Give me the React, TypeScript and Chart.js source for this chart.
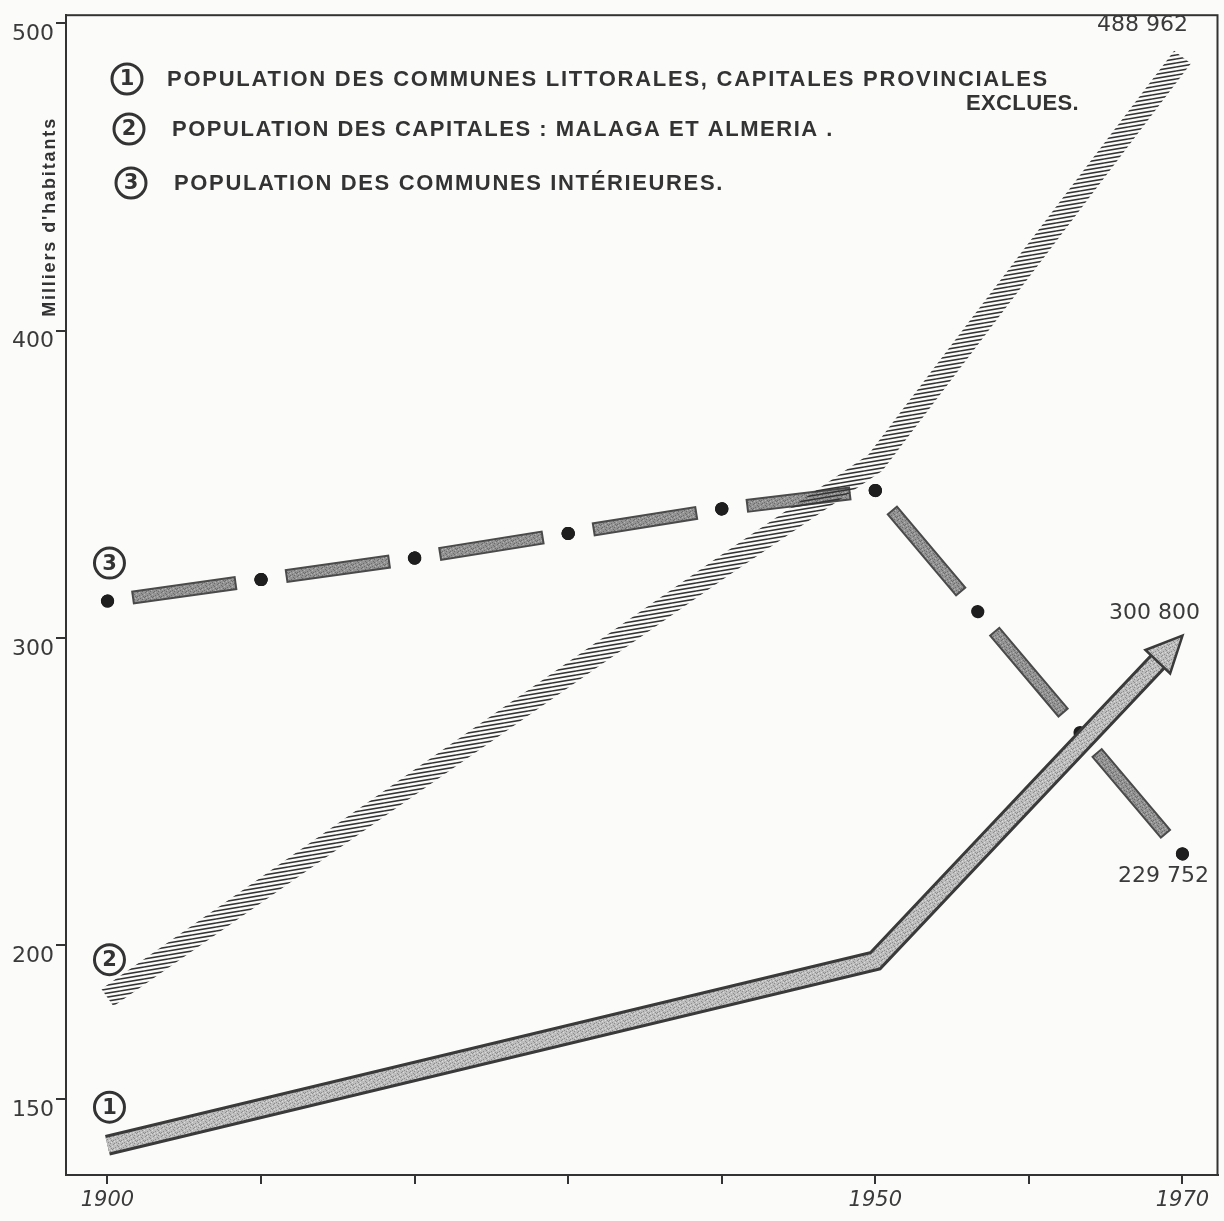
import React, { useEffect, useRef } from "react";
import { Chart, registerables } from "chart.js";

Chart.register(...registerables);

// ---------- data ----------
const yearsLittoral = [1900, 1950, 1970];
const popLittoral = [135, 195, 300.8];
const yearsCapitales = [1900, 1910, 1920, 1930, 1940, 1950, 1970];
const popCapitales = [183, 218, 253, 288, 323, 357, 488.962];
const yearsInterieur = [1900, 1910, 1920, 1930, 1940, 1950, 1970];
const popInterieur = [312, 319, 326, 334, 342, 348, 229.752];
const xTickYears = [1900, 1910, 1920, 1930, 1940, 1950, 1960, 1970];
const xLabelYears = [1900, 1950, 1970];
const yTickValues = [150, 200, 300, 400, 500];
const seriesNumbers = ["1", "2", "3"];
const legendLines = [
  "POPULATION DES COMMUNES LITTORALES, CAPITALES PROVINCIALES",
  "POPULATION DES CAPITALES : MALAGA ET ALMERIA .",
  "POPULATION DES COMMUNES INTÉRIEURES.",
];
const legendExtra = "EXCLUES.";
const yAxisTitle = "Milliers d'habitants";

// ---------- helpers ----------
const pts = (xs: number[], ys: number[]) => xs.map((x, i) => ({ x, y: ys[i] }));
const fmtThousands = (v: number) =>
  String(Math.round(v * 1000)).replace(/\B(?=(\d{3})+(?!\d))/g, " ");

const INK = "#333333";
const DASH_STEP = 155;
const segPeriod = (c: any) => {
  const len = Math.hypot(c.p1.x - c.p0.x, c.p1.y - c.p0.y);
  const n = Math.max(1, Math.round(len / DASH_STEP));
  return len / n;
};
const dashFor = (shrink: number) => (c: any) => {
  const p = segPeriod(c);
  const d = p * 0.68 - shrink;
  return [d, p - d];
};
const dashOffFor = (shrink: number) => (c: any) => {
  const p = segPeriod(c);
  const d = p * 0.68 - shrink;
  return d + (p - d) / 2;
};

function makeStipple(base: string, dark: string, light: string) {
  const c = document.createElement("canvas");
  c.width = 8;
  c.height = 8;
  const g = c.getContext("2d")!;
  g.fillStyle = base;
  g.fillRect(0, 0, 8, 8);
  g.fillStyle = dark;
  [[1, 0], [5, 1], [6, 2], [3, 3], [7, 4], [0, 5], [4, 6], [2, 7], [6, 7], [1, 4]].forEach(([x, y]) =>
    g.fillRect(x, y, 1, 1)
  );
  g.fillStyle = light;
  [[3, 0], [0, 2], [5, 4], [2, 5], [7, 6]].forEach(([x, y]) => g.fillRect(x, y, 1, 1));
  return g.createPattern(c, "repeat")!;
}

function makeHatch() {
  const c = document.createElement("canvas");
  c.width = 24;
  c.height = 4;
  const g = c.getContext("2d")!;
  g.strokeStyle = "#333333";
  g.lineWidth = 1.6;
  for (const off of [-4, 0, 4]) {
    g.beginPath();
    g.moveTo(0, 3 + off);
    g.lineTo(24, -1 + off);
    g.stroke();
  }
  return g.createPattern(c, "repeat")!;
}

function fitText(ctx: CanvasRenderingContext2D, text: string, x: number, y: number, width: number, font: string) {
  ctx.font = font;
  (ctx as any).letterSpacing = "0px";
  const w = ctx.measureText(text).width;
  const n = Array.from(text).length;
  const ls = n > 1 ? (width - w) / n : 0;
  (ctx as any).letterSpacing = ls + "px";
  ctx.fillText(text, x, y);
  (ctx as any).letterSpacing = "0px";
}

function circled(ctx: CanvasRenderingContext2D, cx: number, cy: number, digit: string) {
  ctx.beginPath();
  ctx.arc(cx, cy, 15, 0, Math.PI * 2);
  ctx.lineWidth = 3;
  ctx.strokeStyle = INK;
  ctx.stroke();
  ctx.font = 'bold 21px "DejaVu Sans"';
  ctx.textAlign = "center";
  ctx.textBaseline = "middle";
  ctx.fillStyle = INK;
  ctx.fillText(digit, cx, cy + 1);
}

const ARROW_LEN = 36;
const ARROW_HALF = 17;
function arrowGeom(chart: any) {
  const n = yearsLittoral.length;
  const xs = chart.scales.x;
  const ys = chart.scales.y;
  const tx = xs.getPixelForValue(yearsLittoral[n - 1]);
  const ty = ys.getPixelForValue(popLittoral[n - 1]);
  const px = xs.getPixelForValue(yearsLittoral[n - 2]);
  const py = ys.getPixelForValue(popLittoral[n - 2]);
  const L = Math.hypot(tx - px, ty - py);
  const ux = (tx - px) / L;
  const uy = (ty - py) / L;
  return { tx, ty, ux, uy, bx: tx - ux * ARROW_LEN, by: ty - uy * ARROW_LEN, nx: -uy, ny: ux };
}

export default function App() {
  const ref = useRef<HTMLCanvasElement | null>(null);

  useEffect(() => {
    const canvas = ref.current!;
    const stippleLight = makeStipple("#bdbdbd", "#8d8d8d", "#dcdcdc");
    const stippleDark = makeStipple("#939393", "#6c6c6c", "#b4b4b4");
    const hatch = makeHatch();

    const decor = {
      id: "decor",
      beforeDraw(chart: any) {
        const { ctx, width, height } = chart;
        ctx.save();
        ctx.fillStyle = "#fbfbfa";
        ctx.fillRect(0, 0, width, height);
        ctx.restore();
      },
      beforeDatasetsDraw(chart: any) {
        const { ctx, chartArea: a } = chart;
        ctx.save();
        ctx.strokeStyle = INK;
        ctx.lineWidth = 2;
        ctx.strokeRect(a.left, a.top, a.right - a.left, a.bottom - a.top);
        ctx.restore();
      },
      beforeDatasetDraw(chart: any, args: any) {
        const lbl = chart.data.datasets[args.index].label as string;
        if (!lbl.startsWith("s1")) return;
        const g = arrowGeom(chart);
        const ctx = chart.ctx;
        ctx.save();
        const big = 5000;
        ctx.beginPath();
        ctx.moveTo(g.bx + g.nx * big, g.by + g.ny * big);
        ctx.lineTo(g.bx - g.nx * big, g.by - g.ny * big);
        ctx.lineTo(g.bx - g.nx * big - g.ux * big, g.by - g.ny * big - g.uy * big);
        ctx.lineTo(g.bx + g.nx * big - g.ux * big, g.by + g.ny * big - g.uy * big);
        ctx.closePath();
        ctx.clip();
      },
      afterDatasetDraw(chart: any, args: any) {
        const lbl = chart.data.datasets[args.index].label as string;
        if (!lbl.startsWith("s1")) return;
        chart.ctx.restore();
      },
      afterDatasetsDraw(chart: any) {
        const g = arrowGeom(chart);
        const ctx = chart.ctx;
        ctx.save();
        ctx.beginPath();
        ctx.moveTo(g.tx, g.ty);
        ctx.lineTo(g.bx + g.nx * ARROW_HALF, g.by + g.ny * ARROW_HALF);
        ctx.lineTo(g.bx - g.nx * ARROW_HALF, g.by - g.ny * ARROW_HALF);
        ctx.closePath();
        ctx.fillStyle = stippleLight;
        ctx.fill();
        ctx.lineWidth = 2.5;
        ctx.lineJoin = "miter";
        ctx.strokeStyle = "#3a3a3a";
        ctx.stroke();
        ctx.restore();
      },
      afterDraw(chart: any) {
        const { ctx, chartArea: a } = chart;
        const xs = chart.scales.x;
        const ys = chart.scales.y;
        ctx.save();

        // legend
        const legendRows = [
          { cx: 127, cy: 79, tx: 167, w: 882 },
          { cx: 129, cy: 129, tx: 172, w: 662 },
          { cx: 131, cy: 183, tx: 174, w: 550 },
        ];
        const legendFont = 'bold 22px "Liberation Sans"';
        legendRows.forEach((r, i) => {
          circled(ctx, r.cx, r.cy, seriesNumbers[i]);
          ctx.fillStyle = INK;
          ctx.textAlign = "left";
          ctx.textBaseline = "middle";
          fitText(ctx, legendLines[i], r.tx, r.cy + 1, r.w, legendFont);
        });
        ctx.fillStyle = INK;
        ctx.textAlign = "left";
        ctx.textBaseline = "middle";
        fitText(ctx, legendExtra, 966, 104, 113, legendFont);

        // y axis title
        ctx.save();
        ctx.translate(a.left - 16, ys.getPixelForValue(437));
        ctx.rotate(-Math.PI / 2);
        ctx.fillStyle = INK;
        ctx.textAlign = "left";
        ctx.textBaseline = "middle";
        fitText(ctx, yAxisTitle, -100, 0, 200, 'bold 18px "Liberation Sans"');
        ctx.restore();

        // circled series numbers next to first points
        const firsts = [
          [yearsLittoral[0], popLittoral[0]],
          [yearsCapitales[0], popCapitales[0]],
          [yearsInterieur[0], popInterieur[0]],
        ];
        firsts.forEach(([yr, v], i) => {
          circled(ctx, xs.getPixelForValue(yr) + 2, ys.getPixelForValue(v) - 38, seriesNumbers[i]);
        });

        // end values
        ctx.font = '22px "DejaVu Sans"';
        ctx.fillStyle = "#3a3a3a";
        ctx.textAlign = "center";
        ctx.textBaseline = "middle";
        const endLabel = (yrs: number[], vals: number[], dx: number, dy: number) => {
          const n = yrs.length - 1;
          ctx.fillText(fmtThousands(vals[n]), xs.getPixelForValue(yrs[n]) + dx, ys.getPixelForValue(vals[n]) + dy);
        };
        endLabel(yearsCapitales, popCapitales, -40, -32);
        endLabel(yearsLittoral, popLittoral, -28, -22);
        endLabel(yearsInterieur, popInterieur, -19, 22);
        ctx.restore();
      },
    };

    const chart = new Chart(canvas, {
      type: "line",
      data: {
        datasets: [
          {
            label: "s1-edge",
            data: pts(yearsLittoral, popLittoral),
            borderColor: "#3a3a3a",
            borderWidth: 21,
            borderJoinStyle: "miter",
            borderCapStyle: "butt",
            pointRadius: 0,
            order: 2,
          },
          {
            label: "s1-fill",
            data: pts(yearsLittoral, popLittoral),
            borderColor: stippleLight as any,
            borderWidth: 15,
            borderJoinStyle: "miter",
            borderCapStyle: "butt",
            pointRadius: 0,
            order: 1,
          },
          {
            label: "s2",
            data: pts(yearsCapitales, popCapitales),
            borderColor: hatch as any,
            borderWidth: 21,
            borderJoinStyle: "round",
            borderCapStyle: "butt",
            pointRadius: 0,
            order: 5,
          },
          {
            label: "s3-edge",
            data: pts(yearsInterieur, popInterieur),
            borderColor: "#4a4a4a",
            borderWidth: 14,
            borderCapStyle: "butt",
            pointRadius: 0,
            segment: { borderDash: dashFor(0), borderDashOffset: dashOffFor(0) },
            order: 12,
          },
          {
            label: "s3-fill",
            data: pts(yearsInterieur, popInterieur),
            borderColor: stippleDark as any,
            borderWidth: 10,
            borderCapStyle: "butt",
            pointRadius: 0,
            segment: { borderDash: dashFor(4), borderDashOffset: dashOffFor(4) },
            order: 11,
          },
          {
            label: "s3-dots",
            data: pts(yearsInterieur, popInterieur),
            borderColor: "#1e1e1e",
            borderWidth: 13,
            borderCapStyle: "round",
            pointRadius: 6.5,
            pointBackgroundColor: "#1e1e1e",
            pointBorderWidth: 0,
            segment: {
              borderDash: (c: any) => {
                const p = segPeriod(c);
                return [0.5, p - 0.5];
              },
              borderDashOffset: () => 0.25,
            },
            order: 10,
          },
        ],
      },
      options: {
        animation: false,
        responsive: false,
        devicePixelRatio: 1,
        layout: { padding: { top: 14, right: 4, left: 0, bottom: 0 } },
        plugins: { legend: { display: false }, tooltip: { enabled: false } },
        elements: { line: { tension: 0 } },
        scales: {
          x: {
            type: "linear",
            min: 1897.3,
            max: 1972.28,
            afterBuildTicks: (s: any) => {
              s.ticks = xTickYears.map((v) => ({ value: v }));
            },
            afterFit: (s: any) => {
              s.height = 46;
            },
            grid: { drawOnChartArea: false, drawTicks: true, tickLength: 9, color: INK, lineWidth: 2 },
            border: { display: true, color: INK, width: 2 },
            ticks: {
              autoSkip: false,
              maxRotation: 0,
              minRotation: 0,
              padding: 4,
              color: "#3a3a3a",
              font: { family: '"DejaVu Sans"', size: 21, style: "italic" },
              callback: (v: any) => (xLabelYears.includes(Number(v)) ? String(v) : ""),
            },
          },
          y: {
            type: "linear",
            min: 125.3,
            max: 502.6,
            afterBuildTicks: (s: any) => {
              s.ticks = yTickValues.map((v) => ({ value: v }));
            },
            afterFit: (s: any) => {
              s.width = 66;
            },
            grid: { drawOnChartArea: false, drawTicks: true, tickLength: 10, color: INK, lineWidth: 2 },
            border: { display: true, color: INK, width: 2 },
            ticks: {
              padding: 2,
              labelOffset: 11,
              color: "#3a3a3a",
              font: { family: '"DejaVu Sans"', size: 22 },
              callback: (v: any) => String(v),
            },
          },
        },
      },
      plugins: [decor],
    } as any);

    return () => chart.destroy();
  }, []);

  return (
    <div style={{ position: "absolute", left: 0, top: 0, width: 1224, height: 1221 }}>
      <canvas ref={ref} width={1224} height={1221} style={{ display: "block" }} />
    </div>
  );
}
